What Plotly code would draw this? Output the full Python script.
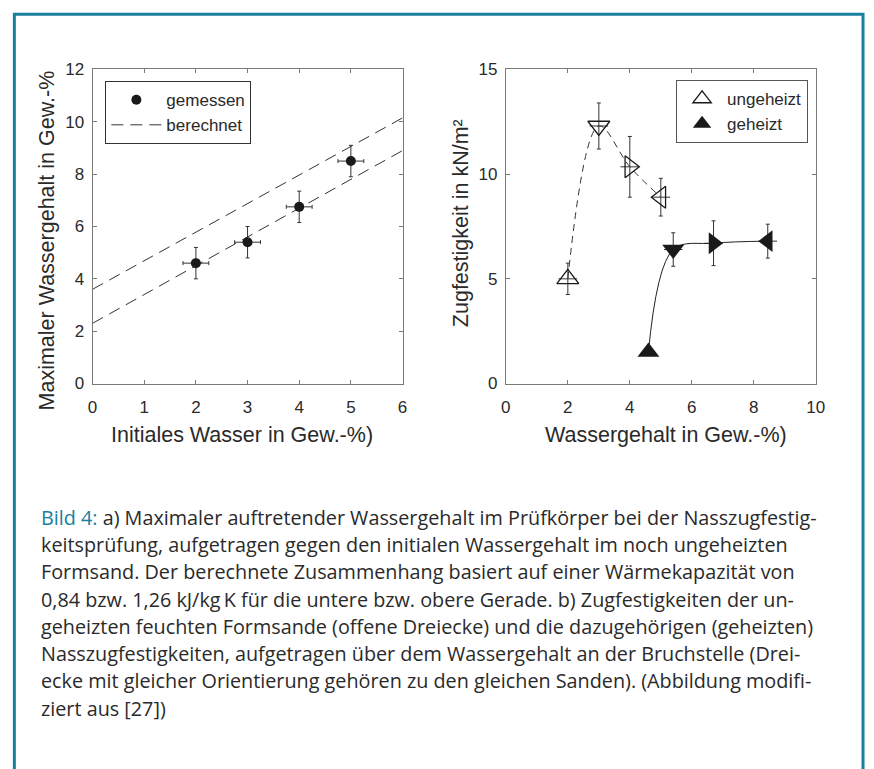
import plotly.graph_objects as go

W, H = 874, 769

# ---- Panel a: maximum water content vs. initial water ----
initial_water = [2, 3, 4, 5]
max_water = [4.6, 5.4, 6.75, 8.5]
max_water_err = [0.6, 0.6, 0.6, 0.6]
initial_water_err = [0.25, 0.25, 0.25, 0.25]

calc_x = [0, 6]
calc_upper = [3.6, 10.15]   # c = 1.26 kJ/kg K
calc_lower = [2.3, 8.9]     # c = 0.84 kJ/kg K

# ---- Panel b: tensile strength vs. water content at fracture ----
unheated_x = [2.0, 3.0, 4.0, 5.0]
unheated_y = [5.0, 12.3, 10.35, 8.9]
unheated_yerr = [0.75, 1.1, 1.45, 0.9]
unheated_xerr = [0.3, 0.3, 0.3, 0.3]

heated_x = [4.6, 5.4, 6.7, 8.45]
heated_y = [1.5, 6.4, 6.7, 6.8]
heated_yerr = [0.1, 0.8, 1.07, 0.81]
heated_xerr = [0.2, 0.3, 0.3, 0.3]

orientation_open = ["triangle-up-open", "triangle-down-open", "triangle-right-open", "triangle-left-open"]
orientation_filled = ["triangle-up", "triangle-down", "triangle-right", "triangle-left"]

caption_lines = [
    "a) Maximaler auftretender Wassergehalt im Prüfkörper bei der Nasszugfestig-",
    "keitsprüfung, aufgetragen gegen den initialen Wassergehalt im noch ungeheizten",
    "Formsand. Der berechnete Zusammenhang basiert auf einer Wärmekapazität von",
    "0,84 bzw. 1,26 kJ/kg\u2009K für die untere bzw. obere Gerade. b) Zugfestigkeiten der un-",
    "geheizten feuchten Formsande (offene Dreiecke) und die dazugehörigen (geheizten)",
    "Nasszugfestigkeiten, aufgetragen über dem Wassergehalt an der Bruchstelle (Drei-",
    "ecke mit gleicher Orientierung gehören zu den gleichen Sanden). (Abbildung modifi-",
    "ziert aus [27])",
]

TEAL = "#1a80a0"
INK = "#2a2a2a"
AXIS = "#7a7a7a"
CHART_FONT = "Liberation Sans, Arial, sans-serif"
CAPTION_FONT = "Open Sans, sans-serif"


def px_x(p):
    return p / W


def px_y(p):
    return 1 - p / H


fig = go.Figure()

# panel a
fig.add_trace(go.Scatter(
    x=calc_x, y=calc_upper, mode="lines", name="berechnet",
    line=dict(color="#333", width=1, dash="12px,7px"),
    xaxis="x", yaxis="y", legend="legend", legendrank=2,
))
fig.add_trace(go.Scatter(
    x=calc_x, y=calc_lower, mode="lines", showlegend=False,
    line=dict(color="#333", width=1, dash="12px,7px"),
    xaxis="x", yaxis="y",
))
fig.add_trace(go.Scatter(
    x=initial_water, y=max_water, mode="markers", name="gemessen",
    marker=dict(symbol="circle", size=10, color="#1a1a1a"),
    error_y=dict(type="data", array=max_water_err, color="#333", thickness=1, width=2),
    error_x=dict(type="data", array=initial_water_err, color="#333", thickness=1, width=2),
    xaxis="x", yaxis="y", legend="legend", legendrank=1,
))

# panel b
fig.add_trace(go.Scatter(
    x=unheated_x, y=unheated_y, mode="lines", showlegend=False,
    line=dict(color="#333", width=1, dash="7px,5px", shape="spline", smoothing=1.0),
    xaxis="x2", yaxis="y2",
))
fig.add_trace(go.Scatter(
    x=heated_x, y=heated_y, mode="lines", showlegend=False,
    line=dict(color="#222", width=1, shape="spline", smoothing=1.0),
    xaxis="x2", yaxis="y2",
))
fig.add_trace(go.Scatter(
    x=unheated_x, y=unheated_y, mode="markers", name="ungeheizt",
    marker=dict(symbol=orientation_open, size=19, color="#1a1a1a",
                line=dict(color="#1a1a1a", width=1.3)),
    error_y=dict(type="data", array=unheated_yerr, color="#333", thickness=1, width=2),
    error_x=dict(type="data", array=unheated_xerr, color="#333", thickness=1, width=0),
    xaxis="x2", yaxis="y2", legend="legend2", legendrank=1,
))
fig.add_trace(go.Scatter(
    x=heated_x, y=heated_y, mode="markers", name="geheizt",
    marker=dict(symbol=orientation_filled, size=19, color="#1a1a1a",
                line=dict(color="#1a1a1a", width=0)),
    error_y=dict(type="data", array=heated_yerr, color="#333", thickness=1, width=2),
    error_x=dict(type="data", array=heated_xerr, color="#333", thickness=1, width=0),
    xaxis="x2", yaxis="y2", legend="legend2", legendrank=2,
))

axis_common = dict(
    showline=True, linecolor=AXIS, linewidth=1, mirror="ticks",
    ticks="inside", ticklen=4, tickcolor=AXIS, tickwidth=1,
    showgrid=False, zeroline=False,
    tickfont=dict(family=CHART_FONT, size=17, color=INK),
)

y_dom = [px_y(384), px_y(62)]
legend_font = dict(family=CHART_FONT, size=17, color=INK)

fig.update_layout(
    width=W, height=H,
    margin=dict(l=0, r=0, t=0, b=0),
    paper_bgcolor="white", plot_bgcolor="white",
    showlegend=True,
    xaxis=dict(domain=[px_x(89), px_x(404)], range=[0, 6], tick0=0, dtick=1,
               anchor="y", ticklabelstandoff=8, **axis_common),
    yaxis=dict(domain=y_dom, range=[0, 12], tick0=0, dtick=2,
               anchor="x", ticklabelstandoff=4, **axis_common),
    xaxis2=dict(domain=[px_x(509), px_x(824)], range=[0, 10], tick0=0, dtick=2,
                anchor="y2", ticklabelstandoff=8, **axis_common),
    yaxis2=dict(domain=y_dom, range=[0, 15], tick0=0, dtick=5,
                anchor="x2", ticklabelstandoff=4, **axis_common),
    legend=dict(x=px_x(102), y=px_y(74), xanchor="left", yanchor="top",
                bgcolor="white", bordercolor="#333", borderwidth=1,
                font=legend_font, itemwidth=50, tracegroupgap=0),
    legend2=dict(x=px_x(682), y=px_y(73), xanchor="left", yanchor="top",
                 bgcolor="white", bordercolor="#555", borderwidth=1,
                 font=legend_font, itemwidth=40, tracegroupgap=0),
)

# axis titles
title_font = dict(family=CHART_FONT, size=21.5, color=INK)
fig.add_annotation(text="Initiales Wasser in Gew.-%)", x=px_x(241), y=px_y(437),
                   xref="paper", yref="paper", showarrow=False, font=title_font,
                   xanchor="center", yanchor="middle")
fig.add_annotation(text="Maximaler Wassergehalt in Gew.-%", x=px_x(43), y=px_y(237),
                   xref="paper", yref="paper", showarrow=False, font=title_font,
                   textangle=-90, xanchor="center", yanchor="middle")
fig.add_annotation(text="Wassergehalt in Gew.-%)", x=px_x(672), y=px_y(437),
                   xref="paper", yref="paper", showarrow=False, font=title_font,
                   xanchor="center", yanchor="middle")
fig.add_annotation(text="Zugfestigkeit in kN/m²", x=px_x(463), y=px_y(220),
                   xref="paper", yref="paper", showarrow=False, font=title_font,
                   textangle=-90, xanchor="center", yanchor="middle")

# caption
cap_font = dict(family=CAPTION_FONT, size=19.8, color=INK, weight=500)
for i, line in enumerate(caption_lines):
    text = line
    if i == 0:
        text = f"<span style='color:{TEAL}'>Bild 4:</span> " + line
    fig.add_annotation(text=text, x=px_x(35), y=px_y(521 + 28 * i),
                       xref="paper", yref="paper", showarrow=False, font=cap_font,
                       xanchor="left", yanchor="middle", align="left")

# frame around the figure (open at the bottom)
fig.add_shape(type="path", xref="paper", yref="paper",
              path=f"M {px_x(9.5)} -0.05 L {px_x(9.5)} {px_y(5.5)} L {px_x(872)} {px_y(5.5)} L {px_x(872)} -0.05",
              line=dict(color=TEAL, width=3))

fig.write_html("out.html", post_script="document.body.style.margin='0';document.body.style.overflow='hidden';")
